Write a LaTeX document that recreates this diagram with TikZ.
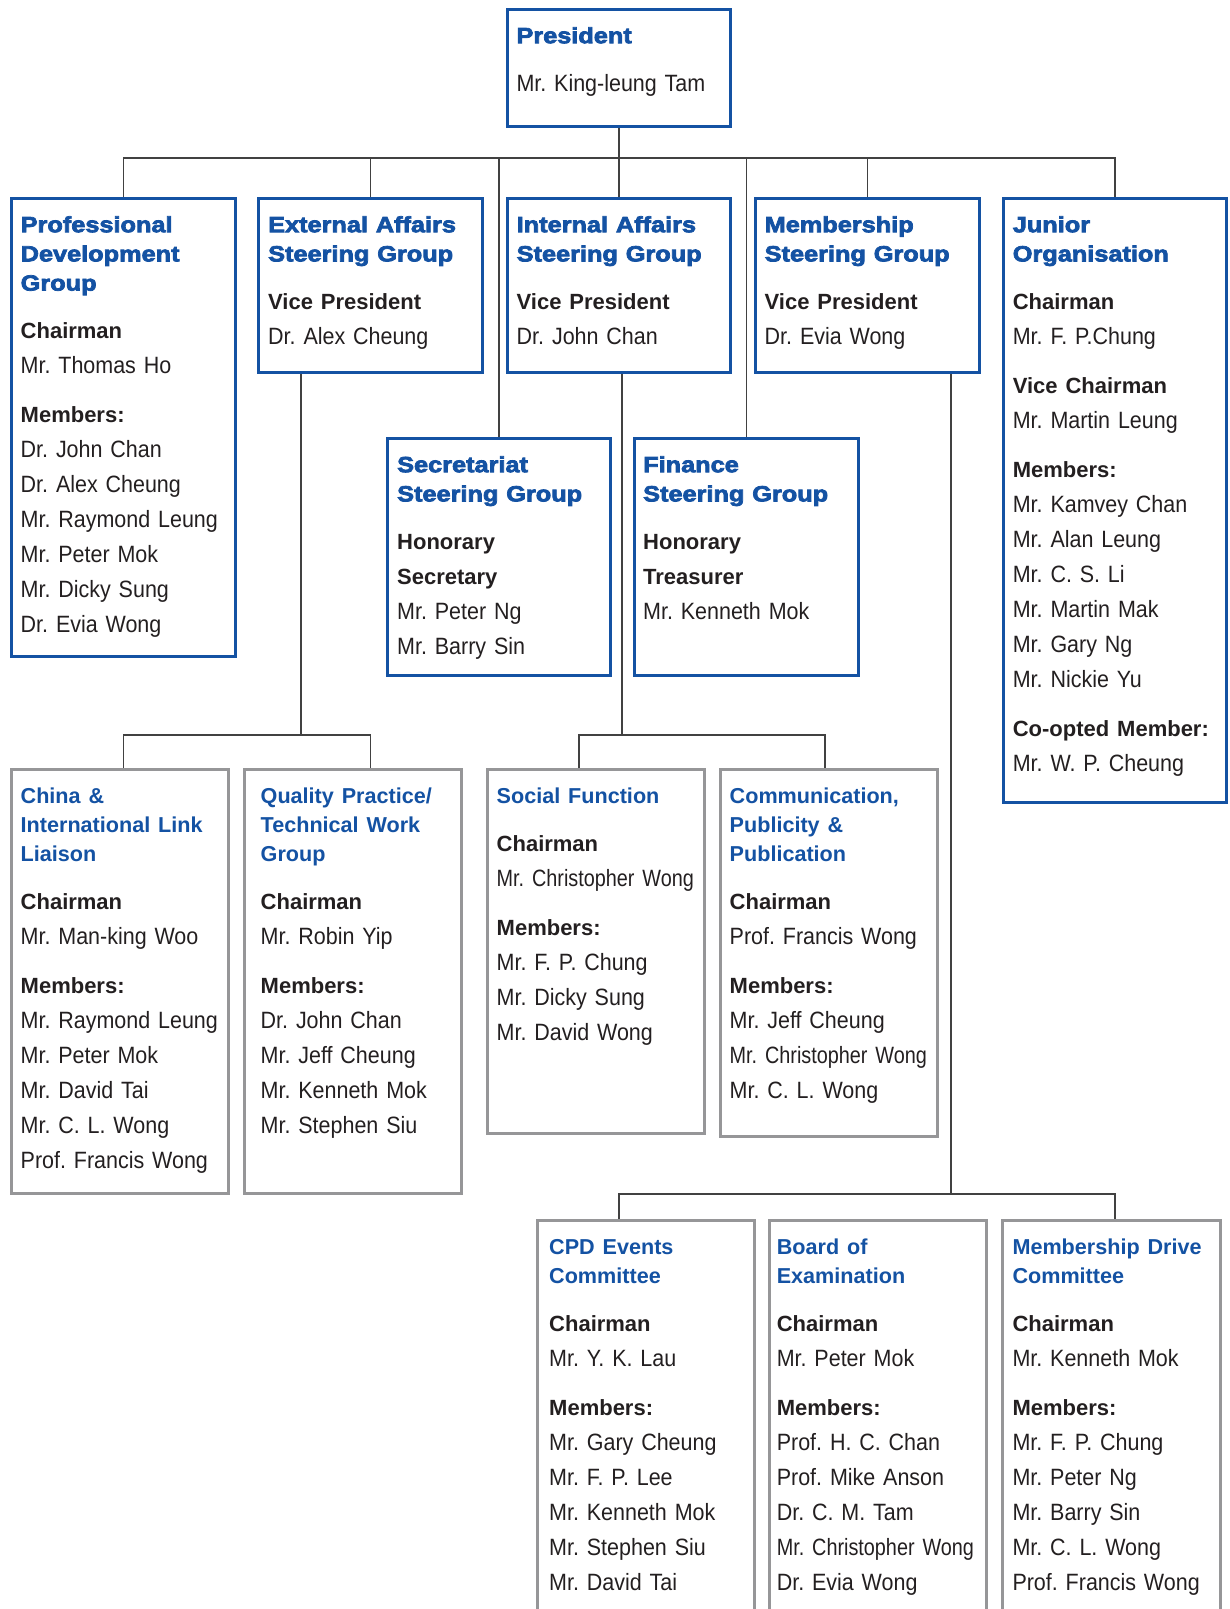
\documentclass[tikz,border=0pt]{standalone}
\usepackage{fontspec}
\setmainfont{Liberation Sans}
\newfontfamily\bodyfont{Liberation Sans}[UprightFeatures={FakeStretch=0.91}]
\newfontfamily\cndfont{Liberation Sans}[FakeStretch=0.84]
\newfontfamily\heavyfont{Liberation Sans}[BoldFeatures={FakeStretch=1.15,FakeBold=3.4}]

\definecolor{hkblue}{RGB}{20,82,163}
\definecolor{boxgray}{RGB}{150,150,152}
\definecolor{linegray}{RGB}{65,65,65}
\definecolor{inktext}{RGB}{35,31,32}

\newcommand{\hvy}{\fontsize{22}{34.9}\heavyfont\bfseries\color{hkblue}}
\newcommand{\subttl}{\fontsize{21.6}{34.9}\bodyfont\bfseries\color{hkblue}}
\newcommand{\lbl}{\fontsize{22}{34.9}\bodyfont\bfseries}
\newcommand{\cnd}{\cndfont}

\tikzset{
  bluebox/.style={draw=hkblue, line width=3pt, anchor=north west, inner sep=0pt},
  graybox/.style={draw=boxgray, line width=3pt, anchor=north west, inner sep=0pt},
  txt/.style={anchor=north west, inner sep=0pt, yshift=2.5pt, text width=230pt, align=left,
    text=inktext, font=\fontsize{23.6}{34.9}\bodyfont\frenchspacing},
  conn/.style={draw=linegray, line width=1.6pt}
}

\begin{document}
\frenchspacing
\begin{tikzpicture}[x=1pt,y=-1pt]
\useasboundingbox (0,0) rectangle (1230,1609);
\clip (0,0) rectangle (1230,1609);

% level 1 and 2
\node[bluebox, minimum width=223pt, minimum height=117pt] (pres) at (506,8) {};
\node[txt] (pres-t) at (516.3,27.5) {\rule{0pt}{18pt}{\hvy President}\\[13.3pt] Mr. King-leung Tam};

\node[bluebox, minimum width=224pt, minimum height=458pt] (pdg) at (10,197) {};
\node[txt] (pdg-t) at (20.5,216.5) {\rule{0pt}{18pt}{\hvy Professional\\[-5.7pt] Development\\[-5.7pt] Group}\\[13.3pt]
  {\lbl Chairman}\\ Mr. Thomas Ho\\[14.3pt] {\lbl Members:}\\ Dr. John Chan\\ Dr. Alex Cheung\\
  Mr. Raymond Leung\\ Mr. Peter Mok\\ Mr. Dicky Sung\\ Dr. Evia Wong};

\node[bluebox, minimum width=224pt, minimum height=174pt] (ext) at (257,197) {};
\node[txt] (ext-t) at (268,216.5) {\rule{0pt}{18pt}{\hvy External Affairs\\[-5.7pt] Steering Group}\\[13.3pt]
  {\lbl Vice President}\\ Dr. Alex Cheung};

\node[bluebox, minimum width=223pt, minimum height=174pt] (int) at (506,197) {};
\node[txt] (int-t) at (516.5,216.5) {\rule{0pt}{18pt}{\hvy Internal Affairs\\[-5.7pt] Steering Group}\\[13.3pt]
  {\lbl Vice President}\\ Dr. John Chan};

\node[bluebox, minimum width=224pt, minimum height=174pt] (mem) at (754,197) {};
\node[txt] (mem-t) at (764.5,216.5) {\rule{0pt}{18pt}{\hvy Membership\\[-5.7pt] Steering Group}\\[13.3pt]
  {\lbl Vice President}\\ Dr. Evia Wong};

\node[bluebox, minimum width=223pt, minimum height=604pt] (jun) at (1002,197) {};
\node[txt] (jun-t) at (1012.6,216.5) {\rule{0pt}{18pt}{\hvy Junior\\[-5.7pt] Organisation}\\[13.3pt]
  {\lbl Chairman}\\ Mr. F. P.Chung\\[14.3pt] {\lbl Vice Chairman}\\ Mr. Martin Leung\\[14.3pt]
  {\lbl Members:}\\ Mr. Kamvey Chan\\ Mr. Alan Leung\\ Mr. C. S. Li\\ Mr. Martin Mak\\ Mr. Gary Ng\\
  Mr. Nickie Yu\\[14.3pt] {\lbl Co-opted Member:}\\ Mr. W. P. Cheung};

\node[bluebox, minimum width=223pt, minimum height=237pt] (sec) at (386,437) {};
\node[txt] (sec-t) at (397,456.5) {\rule{0pt}{18pt}{\hvy Secretariat\\[-5.7pt] Steering Group}\\[13.3pt]
  {\lbl Honorary\\ Secretary}\\ Mr. Peter Ng\\ Mr. Barry Sin};

\node[bluebox, minimum width=224pt, minimum height=237pt] (fin) at (633,437) {};
\node[txt] (fin-t) at (643,456.5) {\rule{0pt}{18pt}{\hvy Finance\\[-5.7pt] Steering Group}\\[13.3pt]
  {\lbl Honorary\\ Treasurer}\\ Mr. Kenneth Mok};

% level 3
\node[graybox, minimum width=217pt, minimum height=424pt] (chn) at (10,768) {};
\node[txt] (chn-t) at (20.5,787.5) {\rule{0pt}{18pt}{\subttl China \&\\[-5.7pt] International Link\\[-5.7pt] Liaison}\\[13.3pt]
  {\lbl Chairman}\\ Mr. Man-king Woo\\[14.3pt] {\lbl Members:}\\ Mr. Raymond Leung\\ Mr. Peter Mok\\
  Mr. David Tai\\ Mr. C. L. Wong\\ Prof. Francis Wong};

\node[graybox, minimum width=217pt, minimum height=424pt] (qlt) at (243,768) {};
\node[txt] (qlt-t) at (260.5,787.5) {\rule{0pt}{18pt}{\subttl Quality Practice/\\[-5.7pt] Technical Work\\[-5.7pt] Group}\\[13.3pt]
  {\lbl Chairman}\\ Mr. Robin Yip\\[14.3pt] {\lbl Members:}\\ Dr. John Chan\\ Mr. Jeff Cheung\\
  Mr. Kenneth Mok\\ Mr. Stephen Siu};

\node[graybox, minimum width=217pt, minimum height=364pt] (soc) at (486,768) {};
\node[txt] (soc-t) at (496.5,787.5) {\rule{0pt}{18pt}{\subttl Social Function}\\[13.3pt]
  {\lbl Chairman}\\ {\cnd Mr. Christopher Wong}\\[14.3pt] {\lbl Members:}\\ Mr. F. P. Chung\\
  Mr. Dicky Sung\\ Mr. David Wong};

\node[graybox, minimum width=217pt, minimum height=367pt] (com) at (719,768) {};
\node[txt] (com-t) at (729.5,787.5) {\rule{0pt}{18pt}{\subttl Communication,\\[-5.7pt] Publicity \&\\[-5.7pt] Publication}\\[13.3pt]
  {\lbl Chairman}\\ Prof. Francis Wong\\[14.3pt] {\lbl Members:}\\ Mr. Jeff Cheung\\
  {\cnd Mr. Christopher Wong}\\ Mr. C. L. Wong};

% committees under membership
\node[graybox, minimum width=217pt, minimum height=430pt] (cpd) at (536,1219) {};
\node[txt] (cpd-t) at (549,1238.5) {\rule{0pt}{18pt}{\subttl CPD Events\\[-5.7pt] Committee}\\[13.3pt]
  {\lbl Chairman}\\ Mr. Y. K. Lau\\[14.3pt] {\lbl Members:}\\ Mr. Gary Cheung\\ Mr. F. P. Lee\\
  Mr. Kenneth Mok\\ Mr. Stephen Siu\\ Mr. David Tai};

\node[graybox, minimum width=217pt, minimum height=430pt] (brd) at (768,1219) {};
\node[txt] (brd-t) at (776.6,1238.5) {\rule{0pt}{18pt}{\subttl Board of\\[-5.7pt] Examination}\\[13.3pt]
  {\lbl Chairman}\\ Mr. Peter Mok\\[14.3pt] {\lbl Members:}\\ Prof. H. C. Chan\\ Prof. Mike Anson\\
  Dr. C. M. Tam\\ {\cnd Mr. Christopher Wong}\\ Dr. Evia Wong};

\node[graybox, minimum width=218pt, minimum height=430pt] (mdc) at (1001,1219) {};
\node[txt] (mdc-t) at (1012.3,1238.5) {\rule{0pt}{18pt}{\subttl Membership Drive\\[-5.7pt] Committee}\\[13.3pt]
  {\lbl Chairman}\\ Mr. Kenneth Mok\\[14.3pt] {\lbl Members:}\\ Mr. F. P. Chung\\ Mr. Peter Ng\\
  Mr. Barry Sin\\ Mr. C. L. Wong\\ Prof. Francis Wong};

% connectors
\coordinate (j1) at (618,158);
\coordinate (j2) at (301,735);
\coordinate (j3) at (622,735);
\coordinate (j4) at (951,1194);

\draw[conn] (pres.south) -- (pres.south |- j1);
\draw[conn] (pdg.north) |- (jun.north |- j1) -- (jun.north);
\foreach \n in {ext,int,mem,sec,fin}
  \draw[conn] (\n.north) -- (\n.north |- j1);

\draw[conn] (j2 |- ext.south) -- (j2);
\draw[conn] (pdg.south |- chn.north) |- (ext.south |- j2) -- (ext.south |- qlt.north);

\draw[conn] (j3 |- int.south) -- (j3);
\draw[conn] ([xshift=-17pt]soc.north) |- (j3) -| ([xshift=-4pt]com.north);

\draw[conn] (j4 |- mem.south) -- (j4);
\draw[conn] (int.south |- cpd.north) |- (j4) -| (jun.south |- mdc.north);
\end{tikzpicture}
\end{document}
